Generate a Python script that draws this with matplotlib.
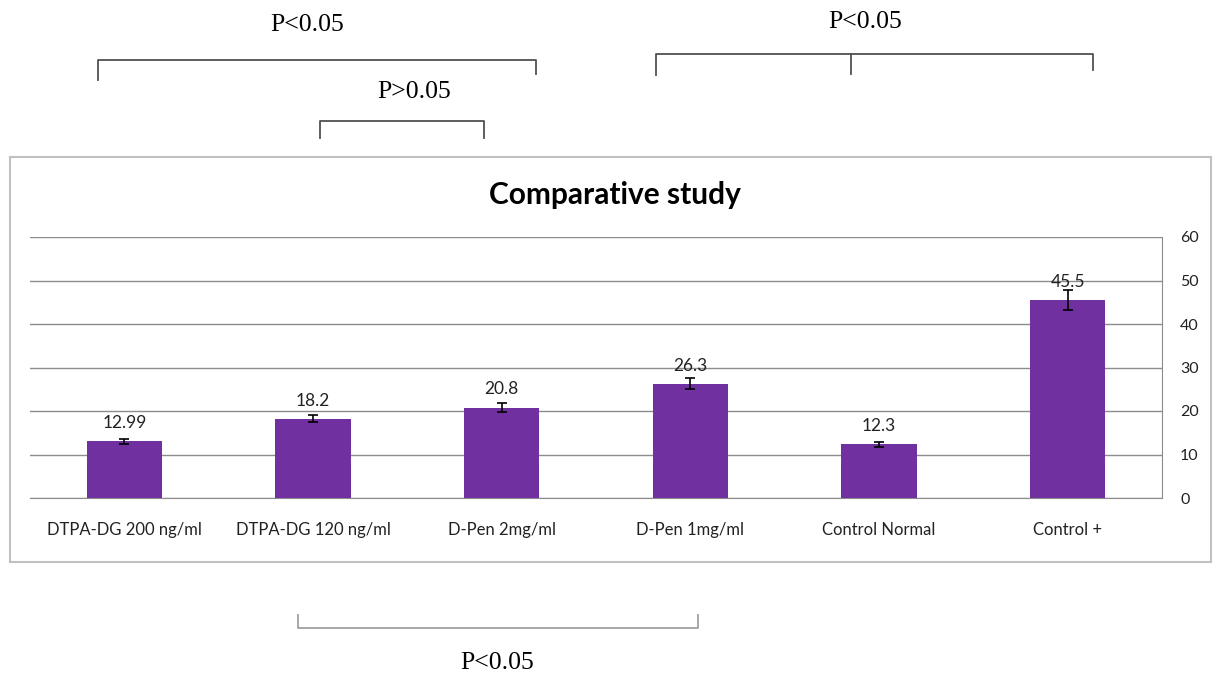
import numpy as np
import matplotlib.pyplot as plt
from matplotlib.patches import Rectangle

# data
groups = ["DTPA-DG 200 ng/ml", "DTPA-DG 120 ng/ml", "D-Pen 2mg/ml",
          "D-Pen 1mg/ml", "Control Normal", "Control +"]
values = [12.99, 18.2, 20.8, 26.3, 12.3, 45.5]
errors = [0.6, 0.8, 1.1, 1.3, 0.5, 2.3]
labels = ["12.99", "18.2", "20.8", "26.3", "12.3", "45.5"]
yticks = [0, 10, 20, 30, 40, 50, 60]

# significance brackets, in picture pixels (x0, x1, y, tick ends, text)
brackets = [
    dict(x=[98, 536], y=60, ends=[80, 74], mid=None, text="P<0.05", tx=307, ty=25),
    dict(x=[320, 484], y=121, ends=[138, 138], mid=None, text="P>0.05", tx=414, ty=92),
    dict(x=[656, 1093], y=54, ends=[75, 70], mid=(851, 74), text="P<0.05", tx=865, ty=22),
    dict(x=[298, 698], y=628, ends=[615, 615], mid=None, text="P<0.05", tx=497, ty=663),
]

W, H = 1212, 675
purple = "#7030A0"
grid_c = "#8c8c8c"
fnt = "Lato"

fig = plt.figure(figsize=(W / 100, H / 100), dpi=100)

# chart frame
fig.add_artist(Rectangle((10 / W, 1 - 562 / H), 1201 / W, 405 / H,
                         transform=fig.transFigure, fill=False,
                         edgecolor="#c0c0c0", lw=1.5))

ax = fig.add_axes([30 / W, 1 - 498 / H, 1132 / W, 261 / H])
x = np.arange(len(groups))
ax.bar(x, values, width=0.4, color=purple, zorder=3,
       yerr=errors, capsize=3.5, error_kw=dict(ecolor="black", lw=1.2, capthick=1.2, zorder=4))
for xi, v, t in zip(x, values, labels):
    ax.annotate(t, (xi, v), xytext=(0, 13), textcoords="offset points",
                ha="center", va="center", fontsize=12.5, family=fnt, color="#222222")

ax.set_xlim(-0.5, len(groups) - 0.5)
ax.set_ylim(0, 60)
ax.set_yticks(yticks)
ax.yaxis.tick_right()
ax.yaxis.grid(True, color=grid_c, lw=1, zorder=0)
ax.set_xticks(x)
ax.set_xticklabels(groups, family=fnt, fontsize=12, color="#222222")
for lb in ax.get_yticklabels():
    lb.set_family(fnt)
    lb.set_fontsize(11.5)
    lb.set_color("#222222")
ax.tick_params(axis="both", length=0)
ax.tick_params(axis="x", pad=17)
ax.tick_params(axis="y", pad=13)
for s in ["left", "top"]:
    ax.spines[s].set_visible(False)
ax.spines["right"].set_color(grid_c)
ax.spines["bottom"].set_color(grid_c)

fig.text(615 / W, 1 - 195 / H, "Comparative study", ha="center", va="center",
         fontsize=21.5, fontweight="bold", family=fnt, color="black")

# brackets overlay in pixel coordinates
ov = fig.add_axes([0, 0, 1, 1], facecolor="none")
ov.set_xlim(0, W)
ov.set_ylim(H, 0)
ov.axis("off")
for i, b in enumerate(brackets):
    c = "#a0a0a0" if i == 3 else "#505050"
    x0, x1 = b["x"]
    ov.plot([x0, x0, x1, x1], [b["ends"][0], b["y"], b["y"], b["ends"][1]], color=c, lw=1.3)
    if b["mid"] is not None:
        ov.plot([b["mid"][0], b["mid"][0]], [b["y"], b["mid"][1]], color=c, lw=1.3)
    ov.text(b["tx"], b["ty"], b["text"], ha="center", va="center", fontsize=18.5,
            family="Liberation Serif", color="black")

fig.savefig("out.png", dpi=100)
